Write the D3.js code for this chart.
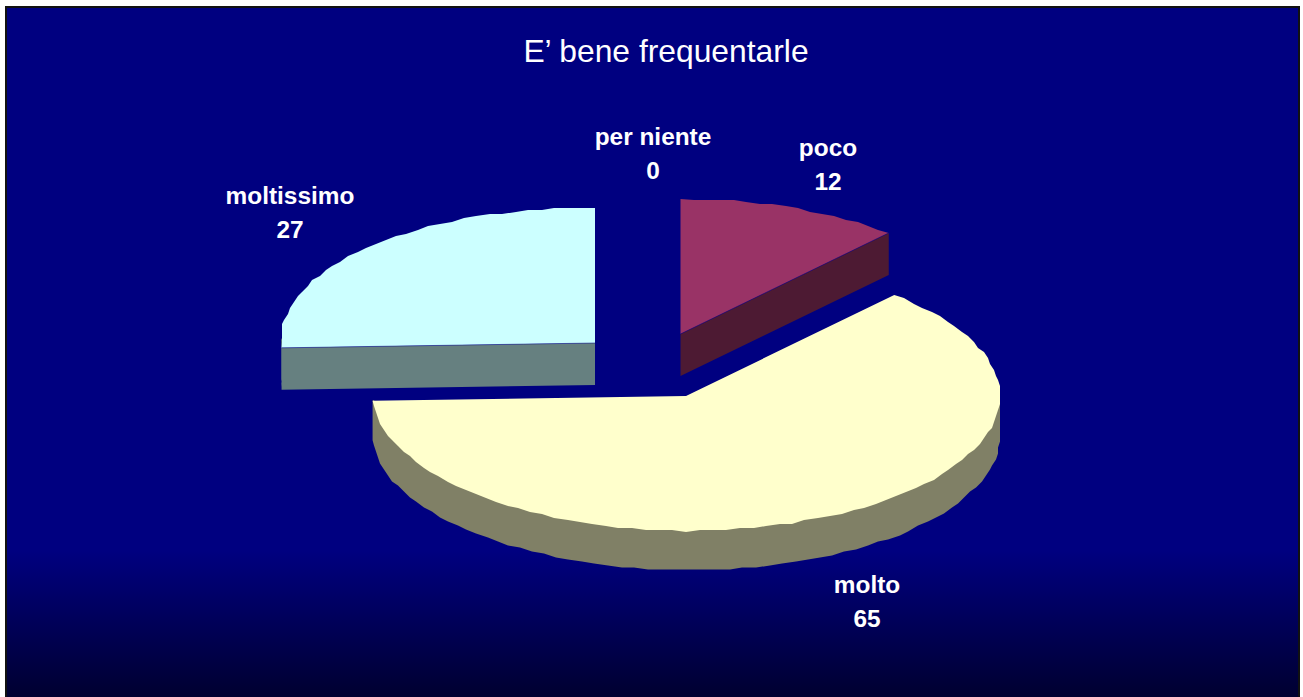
<!DOCTYPE html>
<html lang="en">
<head>
<meta charset="utf-8">
<title>E' bene frequentarle</title>
<script src="https://cdnjs.cloudflare.com/ajax/libs/d3/7.8.5/d3.min.js"></script>
<style>
	html, body { margin: 0; padding: 0; background: #fff; overflow: hidden; }
	svg { display: block; }
	text { font-family: "Liberation Sans", Arial, sans-serif; fill: #fff; }
	.title { font-size: 31.8px; }
	.label { font-size: 24.4px; font-weight: bold; }
</style>
</head>
<body>
<div id="chart"></div>
<script>
// data
var titleText = "E\u2019 bene frequentarle";
var categories = ["per niente", "poco", "molto", "moltissimo"];
var values = [0, 12, 65, 27];
var topColors = ["#003366", "#993366", "#FFFFCC", "#CCFFFF"];
var sideColors = ["#001a33", "#4d1a33", "#808066", "#668080"];

var width = 1303, height = 697;
var rx = 314, ry = 135, depth = 42, rimDepth = 39.5;

// where each exploded slice has its apex, and where its label sits
var apex = [[640, 340], [680.5, 334], [686, 396], [595, 343]];
var labelPos = [[653, 145], [828, 156], [867, 593], [290, 204]];
var labelGap = 33.5;

var svg = d3.select("#chart").append("svg")
	.attr("width", width)
	.attr("height", height);

var grad = svg.append("defs").append("linearGradient")
	.attr("id", "bg")
	.attr("gradientUnits", "userSpaceOnUse")
	.attr("x1", 0).attr("y1", 0).attr("x2", 0).attr("y2", height);
grad.append("stop").attr("offset", 0.79).attr("stop-color", "#000080");
grad.append("stop").attr("offset", 1).attr("stop-color", "#000030");

// frame runs off the bottom of the page, like the original
svg.append("rect")
	.attr("x", 6).attr("y", 7)
	.attr("width", 1293).attr("height", height + 20)
	.attr("fill", "url(#bg)")
	.attr("stroke", "#111")
	.attr("stroke-width", 2);

// slice angles, clockwise from the top
var pie = d3.pie().sort(null).value(function (d) { return d; });
var arcs = pie(values);

// flat circle -> tilted ellipse, the left half sits slightly higher in the original
function project(c, a) {
	var s = Math.sin(a);
	return [c[0] + rx * s, c[1] - ry * Math.cos(a) - 3.3 * Math.max(0, -s)];
}

// rim is snapped to a small grid to get the stepped edge of the original
function rim(c, a0, a1) {
	var n = Math.max(1, Math.ceil((a1 - a0) / (2.5 * Math.PI / 180)));
	return d3.range(n + 1).map(function (i) {
		var p = project(c, a0 + (a1 - a0) * i / n);
		if (i === 0 || i === n) return p;
		return [Math.round(p[0] / 2) * 2, Math.round(p[1] / 2) * 2];
	});
}

var line = d3.line();

function drawPoly(g, pts, fill) {
	g.append("path")
		.attr("d", line(pts) + "Z")
		.attr("fill", fill);
}

function drawEdgeWall(g, c, a, fill) {
	var p = project(c, a);
	drawPoly(g, [c, p, [p[0], p[1] + depth], [c[0], c[1] + depth]], fill);
}

function drawEdgeLine(g, c, a) {
	g.append("path")
		.attr("d", line([c, project(c, a)]))
		.attr("fill", "none")
		.attr("stroke", "#000080")
		.attr("stroke-opacity", 0.5);
}

function drawRimWall(g, c, a0, a1, fill) {
	var pts = rim(c, a0, a1);
	// upper side tucked under the top face so no gaps show between the two
	var upper = pts.map(function (p, i) {
		return (i === 0 || i === pts.length - 1) ? p : [p[0], p[1] - 6];
	});
	var lower = pts.map(function (p) { return [p[0], p[1] + rimDepth]; }).reverse();
	drawPoly(g, upper.concat(lower), fill);
}

var slices = svg.append("g");

// back slices first, molto overlaps the rest
[3, 1, 2].forEach(function (i) {
	var d = arcs[i], c = apex[i];
	var g = slices.append("g").attr("class", "slice");
	var startFront = d.startAngle > Math.PI && d.startAngle < 2 * Math.PI;
	var endFront = d.endAngle > 0 && d.endAngle < Math.PI;

	// walls that face the viewer
	if (startFront) drawEdgeWall(g, c, d.startAngle, sideColors[i]);
	if (endFront) drawEdgeWall(g, c, d.endAngle, sideColors[i]);

	var a0 = Math.max(d.startAngle, Math.PI / 2);
	var a1 = Math.min(d.endAngle, 3 * Math.PI / 2);
	if (a1 > a0) drawRimWall(g, c, a0, a1, sideColors[i]);

	// top face
	drawPoly(g, [c].concat(rim(c, d.startAngle, d.endAngle)), topColors[i]);

	if (startFront) drawEdgeLine(g, c, d.startAngle);
	if (endFront) drawEdgeLine(g, c, d.endAngle);
});

svg.append("text")
	.attr("class", "title")
	.attr("x", 666)
	.attr("y", 62)
	.attr("text-anchor", "middle")
	.text(titleText);

var labels = svg.selectAll(".label-group")
	.data(categories)
	.enter().append("g")
	.attr("class", "label-group");

labels.append("text")
	.attr("class", "label")
	.attr("text-anchor", "middle")
	.attr("x", function (d, i) { return labelPos[i][0]; })
	.attr("y", function (d, i) { return labelPos[i][1]; })
	.text(function (d) { return d; });

labels.append("text")
	.attr("class", "label")
	.attr("text-anchor", "middle")
	.attr("x", function (d, i) { return labelPos[i][0]; })
	.attr("y", function (d, i) { return labelPos[i][1] + labelGap; })
	.text(function (d, i) { return values[i]; });
</script>
</body>
</html>
